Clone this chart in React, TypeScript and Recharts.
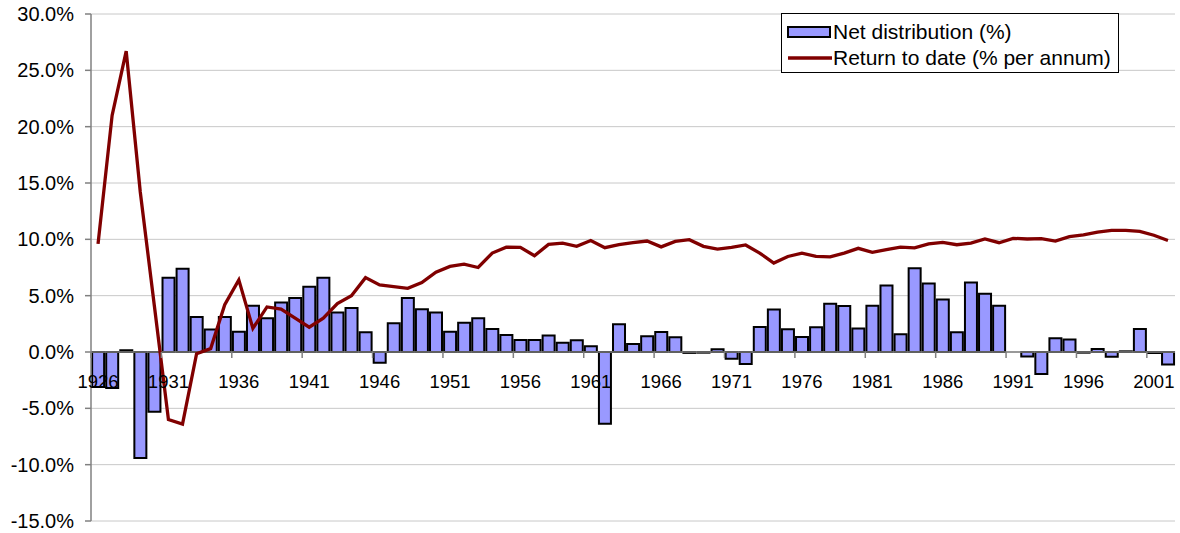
import React from "react";
import {
  ComposedChart,
  Bar,
  Line,
  XAxis,
  YAxis,
  CartesianGrid,
  ReferenceLine,
  Legend,
} from "recharts";

// categories
const years = [
  1926, 1927, 1928, 1929, 1930, 1931, 1932, 1933, 1934, 1935,
  1936, 1937, 1938, 1939, 1940, 1941, 1942, 1943, 1944, 1945,
  1946, 1947, 1948, 1949, 1950, 1951, 1952, 1953, 1954, 1955,
  1956, 1957, 1958, 1959, 1960, 1961, 1962, 1963, 1964, 1965,
  1966, 1967, 1968, 1969, 1970, 1971, 1972, 1973, 1974, 1975,
  1976, 1977, 1978, 1979, 1980, 1981, 1982, 1983, 1984, 1985,
  1986, 1987, 1988, 1989, 1990, 1991, 1992, 1993, 1994, 1995,
  1996, 1997, 1998, 1999, 2000, 2001, 2002,
];

// Net distribution (%)
const netDistribution = [
  -3.1, -3.2, 0.15, -9.4, -5.3, 6.6, 7.4, 3.1, 2.0, 3.1,
  1.8, 4.1, 3.0, 4.4, 4.8, 5.8, 6.6, 3.5, 3.9, 1.75,
  -0.95, 2.56, 4.8, 3.8, 3.5, 1.8, 2.6, 3.0, 2.05, 1.5,
  1.07, 1.07, 1.46, 0.83, 1.04, 0.5, -6.37, 2.47, 0.7, 1.4,
  1.77, 1.3, -0.08, -0.06, 0.24, -0.6, -1.07, 2.23, 3.78, 2.02,
  1.34, 2.2, 4.29, 4.08, 2.08, 4.1, 5.9, 1.58, 7.44, 6.07,
  4.67, 1.76, 6.16, 5.18, 4.1, 0, -0.39, -1.96, 1.22, 1.1,
  -0.06, 0.27, -0.42, 0.06, 2.05, -0.09, -1.1,
];

// Return to date (% per annum)
const returnToDate = [
  9.6, 21.0, 26.7, 14.2, 4.1, -6.0, -6.4, -0.15, 0.3, 4.2,
  6.4, 2.1, 4.0, 3.8, 3.0, 2.2, 3.0, 4.3, 5.0, 6.6,
  5.95, 5.8, 5.65, 6.16, 7.08, 7.6, 7.8, 7.5, 8.78, 9.3,
  9.29, 8.54, 9.55, 9.67, 9.38, 9.9, 9.26, 9.52, 9.7, 9.85,
  9.33, 9.82, 9.97, 9.38, 9.14, 9.29, 9.5, 8.78, 7.9, 8.48,
  8.78, 8.48, 8.45, 8.78, 9.2, 8.84, 9.08, 9.3, 9.25, 9.6,
  9.73, 9.52, 9.67, 10.03, 9.7, 10.09, 10.03, 10.06, 9.85, 10.24,
  10.39, 10.65, 10.8, 10.8, 10.71, 10.36, 9.9,
];

const yTicks = [-15, -10, -5, 0, 5, 10, 15, 20, 25, 30];

const chartData = years.map((year, i) => ({
  year,
  net: netDistribution[i],
  ret: returnToDate[i],
}));

const CHART_W = 1180;
const CHART_H = 533;
const Y_AXIS_W = 91;
const X_AXIS_H = 12;
const MARGIN = { top: 14, right: 5, bottom: 0, left: 0 };
const Y_MIN = -15;
const Y_MAX = 30;
const PLOT_H = CHART_H - MARGIN.top - MARGIN.bottom - X_AXIS_H;
const PLOT_W = CHART_W - MARGIN.left - MARGIN.right - Y_AXIS_W;
// x labels sit under the zero line, like the original
const ZERO_Y = MARGIN.top + (PLOT_H * Y_MAX) / (Y_MAX - Y_MIN);
const BAND = PLOT_W / years.length;

const FONT = '"Liberation Sans", Arial, sans-serif';

const XTick = (props: any) => {
  const { x, payload } = props;
  return (
    <g>
      <line
        x1={x - BAND / 2}
        x2={x - BAND / 2}
        y1={ZERO_Y}
        y2={ZERO_Y + 6}
        stroke="#808080"
        strokeWidth={1.5}
      />
      <text
        x={x}
        y={ZERO_Y + 36}
        textAnchor="middle"
        fontSize={18.5}
        fontFamily={FONT}
        fill="#000"
      >
        {payload.value}
      </text>
    </g>
  );
};

const LegendBox = () => (
  <div
    style={{
      border: "1px solid #000",
      background: "#fff",
      height: 60,
      boxSizing: "border-box",
      fontFamily: FONT,
      fontSize: 21,
      color: "#000",
      paddingLeft: 5,
      whiteSpace: "nowrap",
    }}
  >
    <div style={{ display: "flex", alignItems: "center", height: 26, marginTop: 5 }}>
      <svg width={46} height={14}>
        <rect x={1} y={2} width={42} height={10} fill="#9999ff" stroke="#000" strokeWidth={2} />
      </svg>
      <span>Net distribution (%)</span>
    </div>
    <div style={{ display: "flex", alignItems: "center", height: 26 }}>
      <svg width={46} height={14}>
        <line x1={1} x2={45} y1={7} y2={7} stroke="#800000" strokeWidth={3.5} />
      </svg>
      <span>Return to date (% per annum)</span>
    </div>
  </div>
);

export default function App() {
  return (
    <div style={{ position: "absolute", left: 0, top: 0, fontFamily: FONT }}>
      <ComposedChart
        width={CHART_W}
        height={CHART_H}
        data={chartData}
        margin={MARGIN}
        barCategoryGap="8%"
      >
        <CartesianGrid vertical={false} stroke="#c8c8c8" />
        <XAxis
          dataKey="year"
          height={X_AXIS_H}
          interval={4}
          axisLine={false}
          tickLine={false}
          tick={<XTick />}
        />
        <YAxis
          width={Y_AXIS_W}
          domain={[Y_MIN, Y_MAX]}
          ticks={yTicks}
          interval={0}
          tickFormatter={(v: number) => v.toFixed(1) + "%"}
          tick={{ fontSize: 20, fill: "#000", fontFamily: FONT }}
          axisLine={{ stroke: "#808080", strokeWidth: 1.5 }}
          tickLine={{ stroke: "#808080", strokeWidth: 1.5 }}
          tickSize={6}
          tickMargin={11}
        />
        <Bar
          dataKey="net"
          name="Net distribution (%)"
          fill="#9999ff"
          stroke="#000"
          strokeWidth={2}
          isAnimationActive={false}
        />
        <ReferenceLine y={0} stroke="#808080" strokeWidth={1.5} />
        <Line
          type="linear"
          dataKey="ret"
          name="Return to date (% per annum)"
          stroke="#800000"
          strokeWidth={3.3}
          dot={false}
          isAnimationActive={false}
        />
        <Legend
          verticalAlign="middle"
          align="center"
          content={<LegendBox />}
          wrapperStyle={{ position: "absolute", left: 781, top: 13, width: 338 }}
        />
      </ComposedChart>
    </div>
  );
}
